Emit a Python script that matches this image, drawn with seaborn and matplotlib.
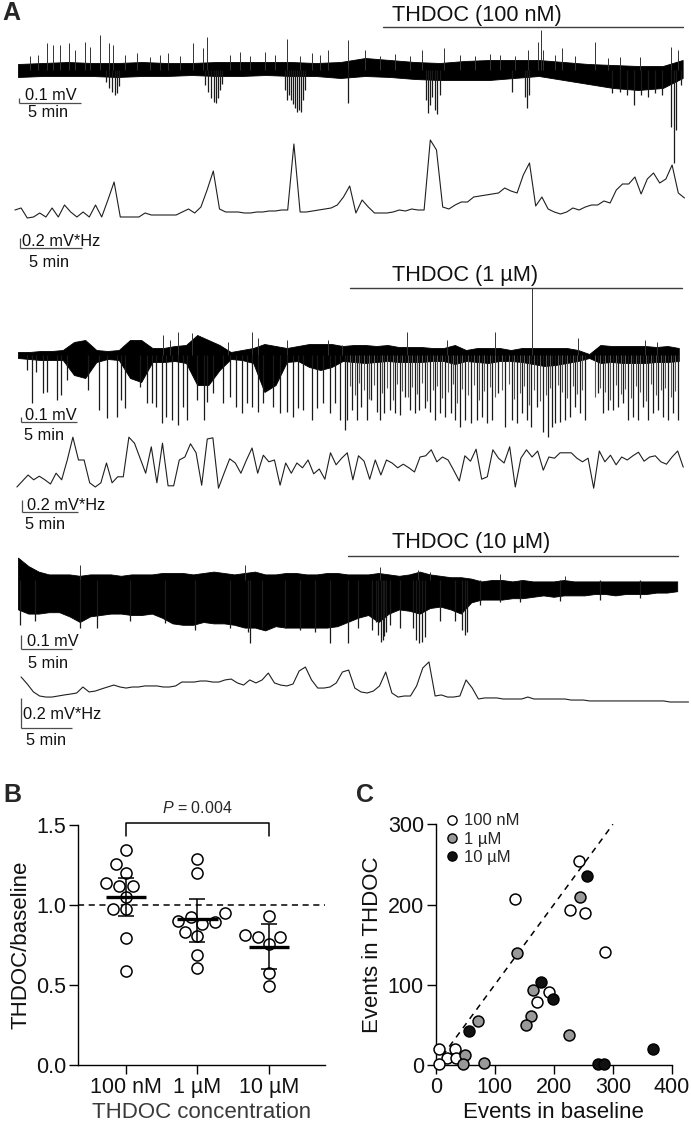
import numpy as np
import pandas as pd
import matplotlib
matplotlib.use("Agg")
import matplotlib.pyplot as plt
from matplotlib.lines import Line2D
import seaborn as sns

# ============================ DATA ============================
# ---- Panel A, trace 1: THDOC 100 nM (time in min, field potential in mV) ----
RAW1_ENV_T = [0, 2, 4, 6, 8, 10, 12, 14, 16, 18, 20, 22, 24, 26, 28, 30, 32, 34, 36, 38,
              40, 42, 44, 46, 48, 50, 52, 53.6]
RAW1_HI = [0.12, 0.14, 0.16, 0.14, 0.14, 0.16, 0.14, 0.14, 0.16, 0.16, 0.16, 0.16, 0.14, 0.16,
           0.24, 0.20, 0.16, 0.14, 0.18, 0.20, 0.20, 0.20, 0.16, 0.12, 0.10, 0.08, 0.08, 0.20]
RAW1_LO = [-0.14, -0.12, -0.12, -0.12, -0.14, -0.12, -0.12, -0.10, -0.12, -0.12, -0.10, -0.12,
           -0.12, -0.16, -0.12, -0.14, -0.18, -0.20, -0.20, -0.20, -0.16, -0.12, -0.20, -0.28,
           -0.36, -0.40, -0.36, -0.16]
RAW1_UP_T = [0.97, 1.61, 2.34, 2.82, 3.39, 4.11, 4.60, 5.40, 5.81, 6.61, 7.34, 7.66, 8.63, 9.60,
             10.65, 11.45, 12.10, 13.06, 14.11, 14.92, 15.24, 17.10, 17.90, 18.71, 19.92, 20.73,
             21.69, 22.74, 23.71, 24.35, 25.00, 26.61, 27.98, 29.19, 30.40, 31.61, 32.58, 34.35,
             35.65, 36.85, 38.06, 38.87, 40.08, 41.13, 41.94, 42.18, 42.34, 43.31, 43.87, 44.92,
             46.53, 47.58, 48.55, 50.16, 52.66, 53.23]
RAW1_UP_V = [0.28, 0.30, 0.54, 0.50, 0.50, 0.54, 0.40, 0.56, 0.46, 0.70, 0.54, 0.50, 0.30, 0.34,
             0.26, 0.30, 0.34, 0.28, 0.54, 0.44, 0.66, 0.30, 0.36, 0.28, 0.36, 0.30, 0.62, 0.28,
             0.34, 0.30, 0.40, 0.60, 0.40, 0.28, 0.32, 0.28, 0.40, 0.44, 0.30, 0.28, 0.32, 0.30,
             0.28, 0.40, 0.56, 0.80, 0.40, 0.30, 0.44, 0.28, 0.56, 0.24, 0.26, 0.26, 0.46, 0.40]
RAW1_DN_T = [7.10, 7.34, 7.58, 7.82, 7.98, 8.15, 15.08, 15.32, 15.56, 15.81, 15.97, 16.13, 16.29,
             16.45, 21.53, 21.69, 21.85, 22.02, 22.18, 22.34, 22.50, 22.66, 22.82, 22.98, 23.15,
             26.61, 32.90, 33.06, 33.23, 33.39, 33.63, 33.79, 34.03, 39.84, 40.89, 41.05, 41.21,
             47.90, 48.55, 49.11, 49.68, 50.24, 50.81, 51.37, 51.94, 52.66, 52.90, 53.06, 53.47]
RAW1_DN_V = [-0.24, -0.36, -0.44, -0.50, -0.46, -0.32, -0.30, -0.44, -0.56, -0.64, -0.66, -0.56,
             -0.40, -0.28, -0.40, -0.60, -0.50, -0.60, -0.68, -0.76, -0.84, -0.80, -0.84, -0.60,
             -0.40, -0.66, -0.60, -0.86, -0.70, -0.54, -0.80, -0.88, -0.50, -0.44, -0.54, -0.76,
             -0.50, -0.46, -0.44, -0.50, -0.70, -0.50, -0.54, -0.46, -0.50, -1.14, -1.86, -1.20,
             -0.30]
RAW1_DN2_T = []
RAW1_DN2_V = []
# power (mV*Hz), one value every 30 s
POW1_T0, POW1_DT = -0.25, 0.5
POW1 = [0.20, 0.24, 0.04, 0.06, 0.14, 0.06, 0.24, 0.06, 0.30, 0.16,
        0.06, 0.16, 0.06, 0.30, 0.06, 0.40, 0.76, 0.06, 0.06, 0.06,
        0.06, 0.14, 0.10, 0.10, 0.10, 0.10, 0.10, 0.16, 0.22, 0.14,
        0.26, 0.60, 0.98, 0.22, 0.16, 0.16, 0.16, 0.14, 0.14, 0.16,
        0.16, 0.18, 0.18, 0.20, 0.20, 1.52, 0.16, 0.16, 0.18, 0.20,
        0.22, 0.24, 0.30, 0.46, 0.68, 0.14, 0.40, 0.26, 0.14, 0.14,
        0.14, 0.16, 0.20, 0.18, 0.22, 0.20, 0.20, 1.60, 1.40, 0.26,
        0.22, 0.30, 0.36, 0.36, 0.46, 0.48, 0.50, 0.52, 0.54, 0.64,
        0.58, 0.54, 0.90, 1.14, 0.28, 0.46, 0.22, 0.16, 0.12, 0.16,
        0.24, 0.20, 0.26, 0.30, 0.30, 0.38, 0.34, 0.60, 0.72, 0.72,
        0.86, 0.52, 0.82, 0.94, 0.74, 0.82, 1.10, 0.54, 0.44]

# ---- Panel A, trace 2: THDOC 1 uM ----
RAW2_ENV_T = list(range(60))
RAW2_HI = [0.06, 0.06, 0.08, 0.08, 0.10, 0.26, 0.30, 0.10, 0.08, 0.10, 0.30, 0.30, 0.14, 0.14,
           0.18, 0.20, 0.40, 0.30, 0.20, 0.06, 0.10, 0.14, 0.22, 0.18, 0.14, 0.18, 0.22, 0.22,
           0.22, 0.18, 0.20, 0.20, 0.18, 0.20, 0.16, 0.16, 0.16, 0.14, 0.14, 0.20, 0.10, 0.14,
           0.14, 0.14, 0.10, 0.14, 0.14, 0.14, 0.14, 0.14, 0.10, 0.02, 0.20, 0.18, 0.18, 0.18,
           0.18, 0.16, 0.18, 0.14]
RAW2_LO = [-0.06, -0.08, -0.10, -0.10, -0.10, -0.40, -0.46, -0.14, -0.08, -0.10,
           -0.46, -0.54, -0.14, -0.14, -0.12, -0.16, -0.60, -0.60, -0.30, -0.08,
           -0.10, -0.16, -0.74, -0.60, -0.14, -0.12, -0.24, -0.30, -0.24, -0.12,
           -0.14, -0.16, -0.14, -0.12, -0.14, -0.14, -0.14, -0.12, -0.12, -0.18,
           -0.12, -0.14, -0.16, -0.12, -0.12, -0.14, -0.18, -0.22, -0.20, -0.16,
           -0.12, -0.06, -0.16, -0.14, -0.16, -0.16, -0.16, -0.14, -0.14, -0.12]
RAW2_UP_T = [12.95, 13.57, 14.29, 15.54, 18.75, 20.89, 21.43, 24.02, 27.68, 28.93, 34.73, 38.30,
             42.59, 45.89, 50.00, 55.98, 57.05]
RAW2_UP_V = [0.40, 0.30, 0.46, 0.44, 0.26, 0.46, 0.34, 0.30, 0.30, 0.20, 0.46, 0.30, 0.46, 1.34,
             0.34, 0.30, 0.26]
RAW2_DN_T = [0.80, 1.25, 1.61, 2.23, 2.59, 3.48, 3.84, 4.38, 6.25, 7.23, 7.95, 8.84, 9.20, 9.55,
             10.89, 11.52, 11.96, 12.32, 12.86, 13.21, 13.75, 14.29, 14.73, 15.09, 15.98, 16.61,
             16.88, 17.41, 18.30, 18.93, 19.46, 20.00, 20.45, 20.89, 21.43, 21.88, 22.77, 23.39,
             24.02, 24.55, 25.00, 25.45, 26.25, 26.70, 27.23, 27.86, 28.30, 28.75, 29.20, 29.38,
             29.82, 30.27, 30.63, 31.16, 31.52, 32.05, 32.32, 32.68, 33.21, 33.66, 34.11, 34.55,
             35.00, 35.45, 35.80, 36.34, 36.79, 37.23, 37.68, 38.13, 38.66, 39.02, 39.46, 39.91,
             40.45, 40.98, 41.43, 41.88, 42.32, 42.86, 43.48, 44.11, 44.55, 45.00, 45.45, 45.80,
             46.34, 46.88, 47.32, 47.68, 47.95, 48.39, 48.84, 49.29, 49.73, 50.18, 50.63, 51.79,
             52.23, 52.68, 53.13, 53.57, 54.02, 54.46, 54.91, 55.36, 55.80, 56.25, 56.70, 57.14,
             57.59, 58.04, 58.48, 58.93]
RAW2_DN_V = [-0.30, -0.96, -0.34, -0.76, -0.74, -0.90, -0.80, -0.50, -0.70, -1.10,
             -1.26, -1.24, -0.90, -1.06, -0.64, -0.96, -0.96, -1.04, -1.36, -1.24,
             -1.30, -1.40, -1.04, -1.30, -0.90, -1.30, -0.94, -0.76, -0.96, -0.84,
             -1.04, -1.16, -0.96, -1.04, -1.14, -0.96, -1.04, -1.16, -1.14, -1.24,
             -1.06, -1.10, -1.30, -1.06, -0.96, -1.16, -0.96, -1.30, -1.50, -1.30,
             -1.10, -1.30, -1.04, -1.30, -0.90, -1.14, -1.30, -1.16, -1.10, -1.16,
             -1.20, -0.84, -1.10, -1.16, -1.10, -1.06, -1.14, -1.30, -1.16, -1.24,
             -1.16, -1.30, -1.44, -1.30, -1.36, -1.30, -1.24, -1.36, -1.30, -0.76,
             -1.44, -1.30, -1.36, -1.16, -1.30, -1.44, -1.04, -1.54, -1.64, -1.44,
             -1.36, -1.34, -1.30, -1.24, -1.04, -1.16, -1.30, -0.76, -1.16, -1.10,
             -1.10, -1.04, -0.96, -1.30, -1.24, -1.30, -1.04, -1.30, -1.16, -1.10,
             -1.24, -1.30, -1.16, -1.30]
# shorter (grey) discharges in between, THDOC period
RAW2_DN2_T = [29.60, 30.05, 30.45, 30.90, 31.34, 31.78, 32.50, 32.95, 33.44, 33.88,
              34.33, 34.78, 35.22, 35.62, 36.07, 36.56, 37.01, 37.45, 37.90, 38.40,
              38.84, 39.24, 39.68, 40.18, 40.71, 41.20, 41.65, 42.10, 42.59, 43.17,
              43.80, 44.33, 44.78, 45.22, 45.62, 46.07, 46.61, 47.10, 47.50, 48.17,
              48.61, 49.06, 49.51, 49.95, 50.40, 51.50, 52.00, 52.45, 52.90,
              53.35, 53.80, 54.24, 54.69, 55.14, 55.58, 56.03, 56.48, 56.92, 57.37,
              57.81, 58.26, 58.70]
RAW2_DN2_V = [-0.62, -0.80, -0.55, -0.70, -0.88, -0.60, -0.75, -0.66, -0.90, -0.58,
              -0.72, -0.84, -0.64, -0.78, -0.56, -0.92, -0.70, -0.62, -0.86, -0.74,
              -0.58, -0.96, -0.68, -0.80, -0.60, -0.90, -0.72, -0.64, -0.84, -0.70,
              -0.58, -0.88, -0.76, -0.62, -1.00, -0.70, -0.92, -0.80, -0.66, -0.60,
              -0.74, -0.86, -0.62, -0.78, -0.70, -0.84, -0.66, -0.74, -0.90,
              -0.60, -0.78, -0.68, -0.86, -0.62, -0.74, -0.92, -0.58, -0.80, -0.70,
              -0.66, -0.84, -0.72]
POW2_T0, POW2_DT = -0.1, 0.5
POW2 = [0.05, 0.15, 0.25, 0.17, 0.23, 0.17, 0.10, 0.28, 0.17, 0.50,
        0.88, 0.50, 0.50, 0.12, 0.05, 0.12, 0.45, 0.12, 0.22, 0.22,
        0.88, 0.78, 0.53, 0.28, 0.72, 0.12, 0.78, 0.07, 0.07, 0.50,
        0.55, 0.77, 0.62, 0.08, 0.85, 0.87, 0.03, 0.28, 0.52, 0.45,
        0.28, 0.50, 0.70, 0.28, 0.58, 0.47, 0.50, 0.08, 0.45, 0.28,
        0.45, 0.37, 0.50, 0.27, 0.35, 0.18, 0.62, 0.42, 0.53, 0.62,
        0.17, 0.57, 0.48, 0.18, 0.50, 0.25, 0.50, 0.45, 0.37, 0.43,
        0.37, 0.30, 0.55, 0.57, 0.67, 0.47, 0.55, 0.50, 0.33, 0.15,
        0.57, 0.48, 0.68, 0.18, 0.22, 0.67, 0.53, 0.45, 0.72, 0.05,
        0.53, 0.67, 0.55, 0.65, 0.33, 0.55, 0.53, 0.62, 0.62, 0.62,
        0.53, 0.47, 0.53, 0.03, 0.65, 0.47, 0.58, 0.42, 0.55, 0.50,
        0.57, 0.63, 0.48, 0.55, 0.57, 0.47, 0.43, 0.55, 0.65, 0.38]

# ---- Panel A, trace 3: THDOC 10 uM ----
RAW3_ENV_T = list(range(65))
RAW3_HI = [0.16, 0.10, 0.06, 0.04, 0.04, 0.04, 0.03, 0.04, 0.04, 0.04, 0.03, 0.04, 0.04, 0.04,
           0.05, 0.05, 0.05, 0.04, 0.05, 0.06, 0.05, 0.04, 0.05, 0.06, 0.04, 0.04, 0.05, 0.05,
           0.04, 0.04, 0.05, 0.05, 0.04, 0.04, 0.04, 0.05, 0.04, 0.03, 0.04, 0.06, 0.04, 0.03,
           0.02, 0.02, 0.01, -0.01, 0.00, 0.00, -0.01, 0.00, -0.01, -0.01, -0.01, 0.00, -0.01,
           -0.01, -0.01, -0.01, -0.01, -0.01, -0.01, -0.01, -0.01, -0.01, -0.01]
RAW3_LO = [-0.21, -0.24, -0.24, -0.23, -0.23, -0.26, -0.30, -0.26, -0.25, -0.24, -0.24, -0.25,
           -0.25, -0.24, -0.27, -0.31, -0.32, -0.32, -0.30, -0.31, -0.31, -0.32, -0.34, -0.34,
           -0.36, -0.33, -0.34, -0.34, -0.34, -0.34, -0.34, -0.33, -0.30, -0.27, -0.25, -0.30,
           -0.24, -0.21, -0.22, -0.24, -0.20, -0.19, -0.21, -0.24, -0.16, -0.14, -0.14, -0.14,
           -0.13, -0.13, -0.12, -0.11, -0.12, -0.11, -0.11, -0.11, -0.10, -0.10, -0.11, -0.10,
           -0.10, -0.10, -0.09, -0.09, -0.08]
RAW3_UP_T = [6.02, 22.04, 35.15, 38.83, 40.00, 46.80, 53.11]
RAW3_UP_V = [0.11, 0.11, 0.09, 0.07, 0.06, 0.04, 0.03]
RAW3_DN_T = [0.19, 1.65, 6.02, 7.67, 10.87, 14.27, 17.18, 20.58, 22.33, 22.52, 23.69, 25.92,
             27.38, 28.83, 30.29, 32.04, 33.01, 34.37, 34.76, 34.95, 35.24, 35.44, 35.53, 35.73,
             36.12, 37.09, 38.35, 38.64, 38.93, 39.22, 39.51, 40.97, 42.43, 43.11, 43.40, 43.59,
             44.85, 46.80, 48.74, 52.62, 56.50, 60.39]
RAW3_DN_V = [-0.32, -0.29, -0.34, -0.34, -0.29, -0.31, -0.36, -0.34, -0.37, -0.45, -0.34, -0.34,
             -0.36, -0.37, -0.45, -0.45, -0.34, -0.36, -0.30, -0.39, -0.44, -0.43, -0.40, -0.37,
             -0.32, -0.34, -0.34, -0.43, -0.45, -0.44, -0.41, -0.29, -0.29, -0.36, -0.39, -0.37,
             -0.18, -0.16, -0.16, -0.15, -0.14, -0.13]
RAW3_DN2_T = []
RAW3_DN2_V = []
POW3_T0, POW3_DT = 0.3, 0.6
POW3 = [0.187, 0.140, 0.087, 0.060, 0.053, 0.053, 0.060, 0.067, 0.073, 0.080,
        0.120, 0.087, 0.093, 0.107, 0.120, 0.133, 0.120, 0.113, 0.120, 0.120,
        0.127, 0.127, 0.127, 0.120, 0.120, 0.127, 0.153, 0.153, 0.153, 0.160,
        0.160, 0.153, 0.153, 0.167, 0.173, 0.147, 0.133, 0.167, 0.147, 0.167,
        0.213, 0.147, 0.133, 0.127, 0.140, 0.227, 0.253, 0.167, 0.113, 0.113,
        0.120, 0.147, 0.220, 0.233, 0.113, 0.087, 0.080, 0.093, 0.127, 0.220,
        0.080, 0.053, 0.060, 0.060, 0.127, 0.247, 0.287, 0.060, 0.067, 0.053,
        0.053, 0.060, 0.167, 0.113, 0.040, 0.047, 0.047, 0.047, 0.040, 0.040,
        0.040, 0.040, 0.053, 0.040, 0.040, 0.040, 0.040, 0.040, 0.040, 0.033,
        0.033, 0.033, 0.027, 0.027, 0.027, 0.027, 0.027, 0.027, 0.027, 0.027,
        0.027, 0.027, 0.027, 0.027, 0.027, 0.020, 0.020, 0.020, 0.020]

THDOC_LABELS = ["THDOC (100 nM)", "THDOC (1 µM)", "THDOC (10 µM)"]
THDOC_START = [29.4, 29.6, 32.0]   # min
THDOC_END = [53.6, 59.3, 64.1]

# ---- Panel B ----
CONC = ["100 nM", "1 µM", "10 µM"]
B_100NM = [1.344, 1.256, 1.202, 1.135, 1.119, 1.119, 1.052, 0.973, 0.973, 0.792, 0.590]
B_1UM = [1.288, 1.198, 0.948, 0.927, 0.900, 0.896, 0.881, 0.833, 0.806, 0.688, 0.604]
B_10UM = [0.931, 0.812, 0.802, 0.802, 0.756, 0.577, 0.494]
B_CENTER = [1.05, 0.91, 0.74]
B_ERR_LO = [0.93, 0.77, 0.60]
B_ERR_HI = [1.17, 1.04, 0.88]
P_LABEL = "$P$ = 0.004"

# ---- Panel C ----
C_100NM_X = [243, 135, 228, 252, 287, 191, 171, 6, 32, 19, 35, 6]
C_100NM_Y = [254, 207, 193, 189, 141, 91, 78, 20, 20, 9, 9, 1]
C_1UM_X = [245, 138, 71, 164, 161, 153, 225, 49, 46, 82]
C_1UM_Y = [210, 139, 55, 94, 61, 50, 37, 12, 1, 3]
C_10UM_X = [256, 178, 198, 57, 368, 274, 285]
C_10UM_Y = [236, 103, 82, 42, 20, 1, 1]

# ============================ STYLE / LAYOUT ============================
sns.set_theme(style="ticks")
plt.rcParams["font.family"] = ["Liberation Sans", "DejaVu Sans"]
plt.rcParams["mathtext.fontset"] = "custom"
plt.rcParams["mathtext.rm"] = "Liberation Sans"
plt.rcParams["mathtext.it"] = "Liberation Sans:italic"

W, H = 691, 1126
fig = plt.figure(figsize=(W / 100, H / 100), dpi=100)
fig.patch.set_facecolor("white")
X0 = 18  # px at which each recording starts

LAYOUT = [
    dict(raw=(0, 175), rbase=70, rppu=50, pw=(125, 232), pbase=220, pppu=50, ppm=12.4,
         bar_y=27, lab_y=21,
         sb_raw=(19, 103, 25, 100, 28, 117), sb_pow=(20, 248, 22, 246, 29, 267)),
    dict(raw=(260, 447), rbase=355, rppu=50, pw=(430, 495), pbase=490, pppu=60, ppm=11.2,
         bar_y=288, lab_y=281,
         sb_raw=(20.6, 422, 25, 420, 24, 440), sb_pow=(22, 512, 27, 510, 25, 529)),
    dict(raw=(530, 662), rbase=580, rppu=140, pw=(650, 712), pbase=705, pppu=150, ppm=10.3,
         bar_y=556, lab_y=548,
         sb_raw=(21, 649, 27, 646, 28, 668), sb_pow=(21, 728, 23, 719, 26, 745)),
]

TRACES = [
    (RAW1_ENV_T, RAW1_HI, RAW1_LO, RAW1_UP_T, RAW1_UP_V, RAW1_DN_T, RAW1_DN_V,
     RAW1_DN2_T, RAW1_DN2_V, POW1, POW1_T0, POW1_DT),
    (RAW2_ENV_T, RAW2_HI, RAW2_LO, RAW2_UP_T, RAW2_UP_V, RAW2_DN_T, RAW2_DN_V,
     RAW2_DN2_T, RAW2_DN2_V, POW2, POW2_T0, POW2_DT),
    (RAW3_ENV_T, RAW3_HI, RAW3_LO, RAW3_UP_T, RAW3_UP_V, RAW3_DN_T, RAW3_DN_V,
     RAW3_DN2_T, RAW3_DN2_V, POW3, POW3_T0, POW3_DT),
]


def px_axes(top, bottom, base, ppu, ppm):
    ax = fig.add_axes([0, 1 - bottom / H, 1, (bottom - top) / H])
    ax.set_xlim(-X0 / ppm, (W - X0) / ppm)
    ax.set_ylim((base - bottom) / ppu, (base - top) / ppu)
    ax.axis("off")
    ax.patch.set_alpha(0)
    return ax


# overlay in pixel units for annotations (bars, scale bars, labels)
ov = fig.add_axes([0, 0, 1, 1], zorder=10)
ov.set_xlim(0, W)
ov.set_ylim(H, 0)
ov.axis("off")
ov.patch.set_alpha(0)

SB_COLOR = "#4d4d4d"
SB_FS = 11.8

for lay, tr, lab, t_on, t_off in zip(LAYOUT, TRACES, THDOC_LABELS, THDOC_START, THDOC_END):
    env_t, hi, lo, up_t, up_v, dn_t, dn_v, dn2_t, dn2_v, pw, p_t0, p_dt = tr
    # raw field potential
    axr = px_axes(lay["raw"][0], lay["raw"][1], lay["rbase"], lay["rppu"], lay["ppm"])
    axr.fill_between(env_t, lo, hi, color="black", lw=0.6, edgecolor="black")
    axr.vlines(up_t, 0, up_v, color="#333333", lw=0.7)
    if len(dn2_t):
        axr.vlines(dn2_t, 0, dn2_v, color="#555555", lw=0.8)
    axr.vlines(dn_t, 0, dn_v, color="#1a1a1a", lw=0.9)
    # power trace
    axp = px_axes(lay["pw"][0], lay["pw"][1], lay["pbase"], lay["pppu"], lay["ppm"])
    pt = p_t0 + p_dt * np.arange(len(pw))
    sns.lineplot(x=pt, y=pw, ax=axp, color="#1f1f1f", lw=0.8, estimator=None, sort=False)
    axp.axis("off")
    # treatment bar and label
    ppm = lay["ppm"]
    ov.plot([X0 + ppm * t_on, X0 + ppm * t_off], [lay["bar_y"]] * 2, color="#3d3d3d", lw=1.0)
    ov.text(392, lay["lab_y"], lab, fontsize=15.7, ha="left", va="baseline", color="#111111")
    # scale bars
    for sb, vlen, ppu, vlab in [(lay["sb_raw"], 0.1, lay["rppu"], "0.1 mV"),
                                (lay["sb_pow"], 0.2, lay["pppu"], "0.2 mV*Hz")]:
        cx, cy, lx, ly, mx, my = sb
        ov.plot([cx, cx + 5 * ppm], [cy, cy], color=SB_COLOR, lw=0.9, solid_capstyle="butt")
        ov.plot([cx, cx], [cy, cy - vlen * ppu], color=SB_COLOR, lw=0.9, solid_capstyle="butt")
        ov.text(lx, ly, vlab, fontsize=SB_FS, ha="left", va="baseline", color="#111111")
        ov.text(mx, my, "5 min", fontsize=SB_FS, ha="left", va="baseline", color="#111111")

# panel letters
for letter, (x, y) in zip("ABC", [(2, 20), (3, 802), (356, 802)]):
    ov.text(x, y, letter, fontsize=18, fontweight="bold", ha="left", va="baseline")

# ---------------- Panel B ----------------
AX_LW = 1.0
axB = fig.add_axes([78 / W, 1 - 1065 / H, (325 - 78) / W, (1065 - 825) / H])
dfB = pd.DataFrame({
    "conc": [CONC[0]] * len(B_100NM) + [CONC[1]] * len(B_1UM) + [CONC[2]] * len(B_10UM),
    "ratio": B_100NM + B_1UM + B_10UM,
})
sns.swarmplot(data=dfB, x="conc", y="ratio", order=CONC, ax=axB, color="white",
              edgecolor="black", linewidth=1.1, size=8, zorder=3)
xpos = np.arange(len(CONC))
axB.axhline(1.0, ls=(0, (4, 3)), color="black", lw=1.1, zorder=1)
axB.hlines(B_CENTER, xpos - 0.28, xpos + 0.28, color="black", lw=2.4, zorder=5)
bc = np.array(B_CENTER)
axB.errorbar(xpos, bc, yerr=[bc - np.array(B_ERR_LO), np.array(B_ERR_HI) - bc], fmt="none",
             ecolor="black", elinewidth=1.1, capsize=6, capthick=1.1, zorder=5)
axB.plot([0, 0, 2, 2], [1.43, 1.51, 1.51, 1.43], color="black", lw=1.1, clip_on=False)
axB.text(1, 1.575, P_LABEL, fontsize=11.5, ha="center", va="baseline")
axB.set_xlim(-0.671, 2.783)
axB.set_ylim(0, 1.5)
axB.set_yticks([0, 0.5, 1.0, 1.5])
axB.set_yticklabels(["0.0", "0.5", "1.0", "1.5"])
axB.set_ylabel("THDOC/baseline", fontsize=16, labelpad=3, color="#111111")
axB.set_xlabel("THDOC concentration", fontsize=16, labelpad=3, color="#3a3a3a")

# ---------------- Panel C ----------------
axC = fig.add_axes([435.7 / W, 1 - 1065 / H, (672 - 435.7) / W, (1065 - 824.3) / H])
C_STYLE = [("white", C_100NM_X, C_100NM_Y), ("#999999", C_1UM_X, C_1UM_Y),
           ("#111111", C_10UM_X, C_10UM_Y)]
for fc, xs, ys in C_STYLE:
    sns.scatterplot(x=xs, y=ys, ax=axC, color=fc, edgecolor="black", linewidth=1.1, s=62,
                    zorder=3, clip_on=False)
axC.plot([0, 300], [0, 300], ls=(0, (4, 3.5)), color="black", lw=1.1, zorder=1)
axC.set_xlim(0, 400)
axC.set_ylim(0, 300)
axC.set_xticks([0, 100, 200, 300, 400])
axC.set_yticks([0, 100, 200, 300])
axC.set_xlabel("Events in baseline", fontsize=16, labelpad=3, color="#111111")
axC.set_ylabel("Events in THDOC", fontsize=16, labelpad=3, color="#111111")
handles = [Line2D([], [], marker="o", ls="none", markersize=6.6, markerfacecolor=fc,
                  markeredgecolor="black", markeredgewidth=1.0) for fc, _, _ in C_STYLE]
axC.legend(handles, CONC, loc="upper left", bbox_to_anchor=(0.034, 1.045), frameon=False,
           fontsize=12, handlelength=1.0, handletextpad=0.2, labelspacing=0.2,
           borderpad=0, borderaxespad=0)

for ax in (axB, axC):
    sns.despine(ax=ax)
    for s in ("left", "bottom"):
        ax.spines[s].set_linewidth(AX_LW)
        ax.spines[s].set_color("black")
    ax.tick_params(axis="both", length=6.5, width=AX_LW, labelsize=15.5, pad=2,
                   color="black", labelcolor="#111111", direction="out")
    ax.patch.set_alpha(0)

fig.savefig("out.png", dpi=100, facecolor="white")
